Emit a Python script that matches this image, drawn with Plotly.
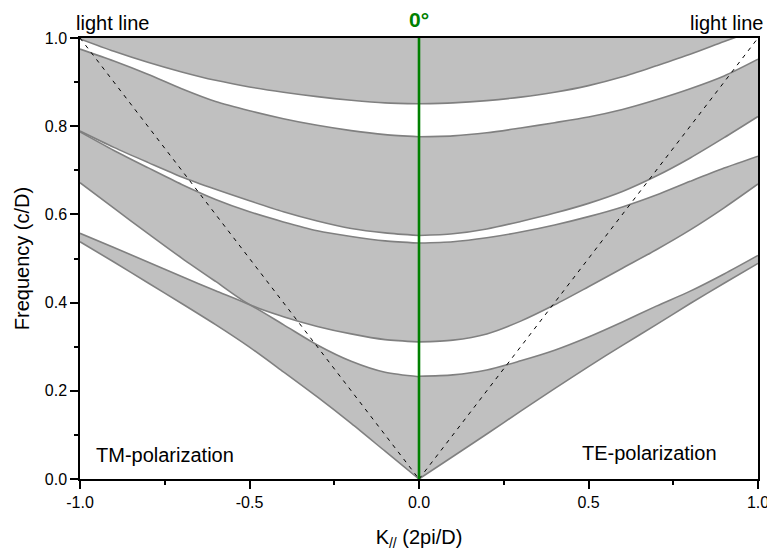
import plotly.graph_objects as go

# In-plane wave vector samples (units of 2pi/D)
k_tm = [-1.0, -0.9, -0.8, -0.7, -0.6, -0.5, -0.4, -0.3, -0.2, -0.1, 0.0]
k_te = [0.0, 0.1, 0.2, 0.3, 0.4, 0.5, 0.6, 0.7, 0.8, 0.9, 1.0]

# TM-polarization band edges, frequency in c/D
tm_band1_lo = [0.538, 0.492, 0.445, 0.398, 0.350, 0.299, 0.243, 0.186, 0.126, 0.063, 0.000]
tm_band1_hi = [0.557, 0.525, 0.492, 0.459, 0.427, 0.395, 0.350, 0.304, 0.267, 0.242, 0.232]
tm_band2_lo = [0.672, 0.614, 0.557, 0.501, 0.448, 0.396, 0.368, 0.346, 0.329, 0.316, 0.311]
tm_band2_hi = [0.787, 0.745, 0.706, 0.668, 0.634, 0.606, 0.583, 0.563, 0.550, 0.540, 0.535]
tm_band3_lo = [0.789, 0.752, 0.718, 0.685, 0.657, 0.631, 0.606, 0.585, 0.568, 0.558, 0.552]
tm_band3_hi = [0.975, 0.948, 0.918, 0.885, 0.856, 0.835, 0.817, 0.802, 0.790, 0.781, 0.776]
tm_band4_lo = [0.998, 0.970, 0.945, 0.923, 0.904, 0.889, 0.877, 0.867, 0.859, 0.853, 0.851]

# TE-polarization band edges, frequency in c/D
te_band1_lo = [0.000, 0.051, 0.102, 0.154, 0.205, 0.255, 0.303, 0.350, 0.398, 0.444, 0.489]
te_band1_hi = [0.233, 0.236, 0.247, 0.268, 0.292, 0.322, 0.356, 0.392, 0.426, 0.465, 0.507]
te_band2_lo = [0.311, 0.315, 0.329, 0.358, 0.395, 0.436, 0.478, 0.520, 0.565, 0.615, 0.669]
te_band2_hi = [0.535, 0.538, 0.547, 0.560, 0.576, 0.595, 0.617, 0.644, 0.675, 0.705, 0.732]
te_band3_lo = [0.552, 0.556, 0.567, 0.584, 0.603, 0.625, 0.652, 0.687, 0.728, 0.774, 0.822]
te_band3_hi = [0.776, 0.778, 0.785, 0.796, 0.808, 0.821, 0.838, 0.860, 0.885, 0.914, 0.952]
te_band4_lo = [0.851, 0.853, 0.858, 0.866, 0.877, 0.892, 0.912, 0.937, 0.963, 0.992, 1.020]

# Light lines (omega = c|k|)
light_k_tm = [-1.0, 0.0]
light_f_tm = [1.0, 0.0]
light_k_te = [0.0, 1.0]
light_f_te = [0.0, 1.0]

# Normal-incidence marker
normal_k = [0.0, 0.0]
normal_f = [0.0, 1.0]

FREQ_MAX = 1.0

x_ticks = [-1.0, -0.5, 0.0, 0.5, 1.0]
x_ticklabels = ["-1.0", "-0.5", "0.0", "0.5", "1.0"]
y_ticks = [0.0, 0.2, 0.4, 0.6, 0.8, 1.0]
y_ticklabels = ["0.0", "0.2", "0.4", "0.6", "0.8", "1.0"]

FILL = "#c0c0c0"
EDGE = "#808080"
FONT = "Liberation Sans, Arial, sans-serif"

fig = go.Figure()

sides = [
    (k_tm, [(tm_band1_lo, tm_band1_hi), (tm_band2_lo, tm_band2_hi),
            (tm_band3_lo, tm_band3_hi), (tm_band4_lo, None)]),
    (k_te, [(te_band1_lo, te_band1_hi), (te_band2_lo, te_band2_hi),
            (te_band3_lo, te_band3_hi), (te_band4_lo, None)]),
]

line_shape = dict(shape="spline", smoothing=0.8)

# Shaded allowed bands
for k, bands in sides:
    for lo, hi in bands:
        top = hi if hi is not None else [FREQ_MAX] * len(k)
        fig.add_trace(go.Scatter(x=k, y=lo, mode="lines",
                                 line=dict(width=0, **line_shape),
                                 hoverinfo="skip", showlegend=False))
        fig.add_trace(go.Scatter(x=k, y=top, mode="lines", fill="tonexty",
                                 fillcolor=FILL,
                                 line=dict(width=0, **line_shape),
                                 hoverinfo="skip", showlegend=False))

# Band edges
for k, bands in sides:
    for lo, hi in bands:
        for edge in (lo, hi):
            if edge is None:
                continue
            fig.add_trace(go.Scatter(x=k, y=edge, mode="lines",
                                     line=dict(color=EDGE, width=1.6, **line_shape),
                                     hoverinfo="skip", showlegend=False))

# Light lines
for lk, lf in ((light_k_tm, light_f_tm), (light_k_te, light_f_te)):
    fig.add_trace(go.Scatter(x=lk, y=lf, mode="lines",
                             line=dict(color="black", width=1, dash="4px,5px"),
                             hoverinfo="skip", showlegend=False))

# Normal incidence (0 degrees)
fig.add_trace(go.Scatter(x=normal_k, y=normal_f, mode="lines",
                         line=dict(color="#008000", width=2.6),
                         hoverinfo="skip", showlegend=False))

axis_common = dict(
    showline=True, linecolor="black", linewidth=1.5, mirror=True,
    ticks="outside", ticklen=8, tickwidth=1.5, tickcolor="black",
    showgrid=False, zeroline=False, ticklabeloverflow="allow",
    automargin=False,
    tickfont=dict(family=FONT, size=16, color="black"),
)

fig.update_layout(
    width=767, height=551,
    margin=dict(l=80, r=9, t=38, b=72),
    paper_bgcolor="white", plot_bgcolor="white",
    showlegend=False,
    font=dict(family=FONT, color="black"),
    xaxis=dict(
        range=[-1.0, 1.0], tickvals=x_ticks, ticktext=x_ticklabels,
        minor=dict(tickvals=[-0.75, -0.25, 0.25, 0.75], ticks="outside",
                   ticklen=4, tickwidth=1.5, tickcolor="black"),
        title=dict(text="K<sub>//</sub> (2pi/D)",
                   font=dict(family=FONT, size=20), standoff=22),
        **axis_common,
    ),
    yaxis=dict(
        range=[0.0, 1.0], tickvals=y_ticks, ticktext=y_ticklabels,
        minor=dict(tickvals=[0.1, 0.3, 0.5, 0.7, 0.9], ticks="outside",
                   ticklen=4, tickwidth=1.5, tickcolor="black"),
        title=dict(text="Frequency (c/D)",
                   font=dict(family=FONT, size=20), standoff=10),
        **axis_common,
    ),
)

annotations = [
    dict(text="light line", xref="paper", yref="paper", x=-0.009, y=1.034,
         xanchor="left", yanchor="middle", font=dict(size=20)),
    dict(text="light line", xref="paper", yref="paper", x=1.010, y=1.034,
         xanchor="right", yanchor="middle", font=dict(size=20)),
    dict(text="<b>0°</b>", xref="x", yref="paper", x=0.0, y=1.041,
         xanchor="center", yanchor="middle",
         font=dict(size=21, color="#008000")),
    dict(text="TM-polarization", xref="paper", yref="paper", x=0.021, y=0.054,
         xanchor="left", yanchor="middle", font=dict(size=20)),
    dict(text="TE-polarization", xref="paper", yref="paper", x=0.942, y=0.058,
         xanchor="right", yanchor="middle", font=dict(size=20)),
]
for a in annotations:
    a["showarrow"] = False
    a["font"]["family"] = FONT
    a["font"].setdefault("color", "black")
fig.update_layout(annotations=annotations)

fig.write_html("out.html")
